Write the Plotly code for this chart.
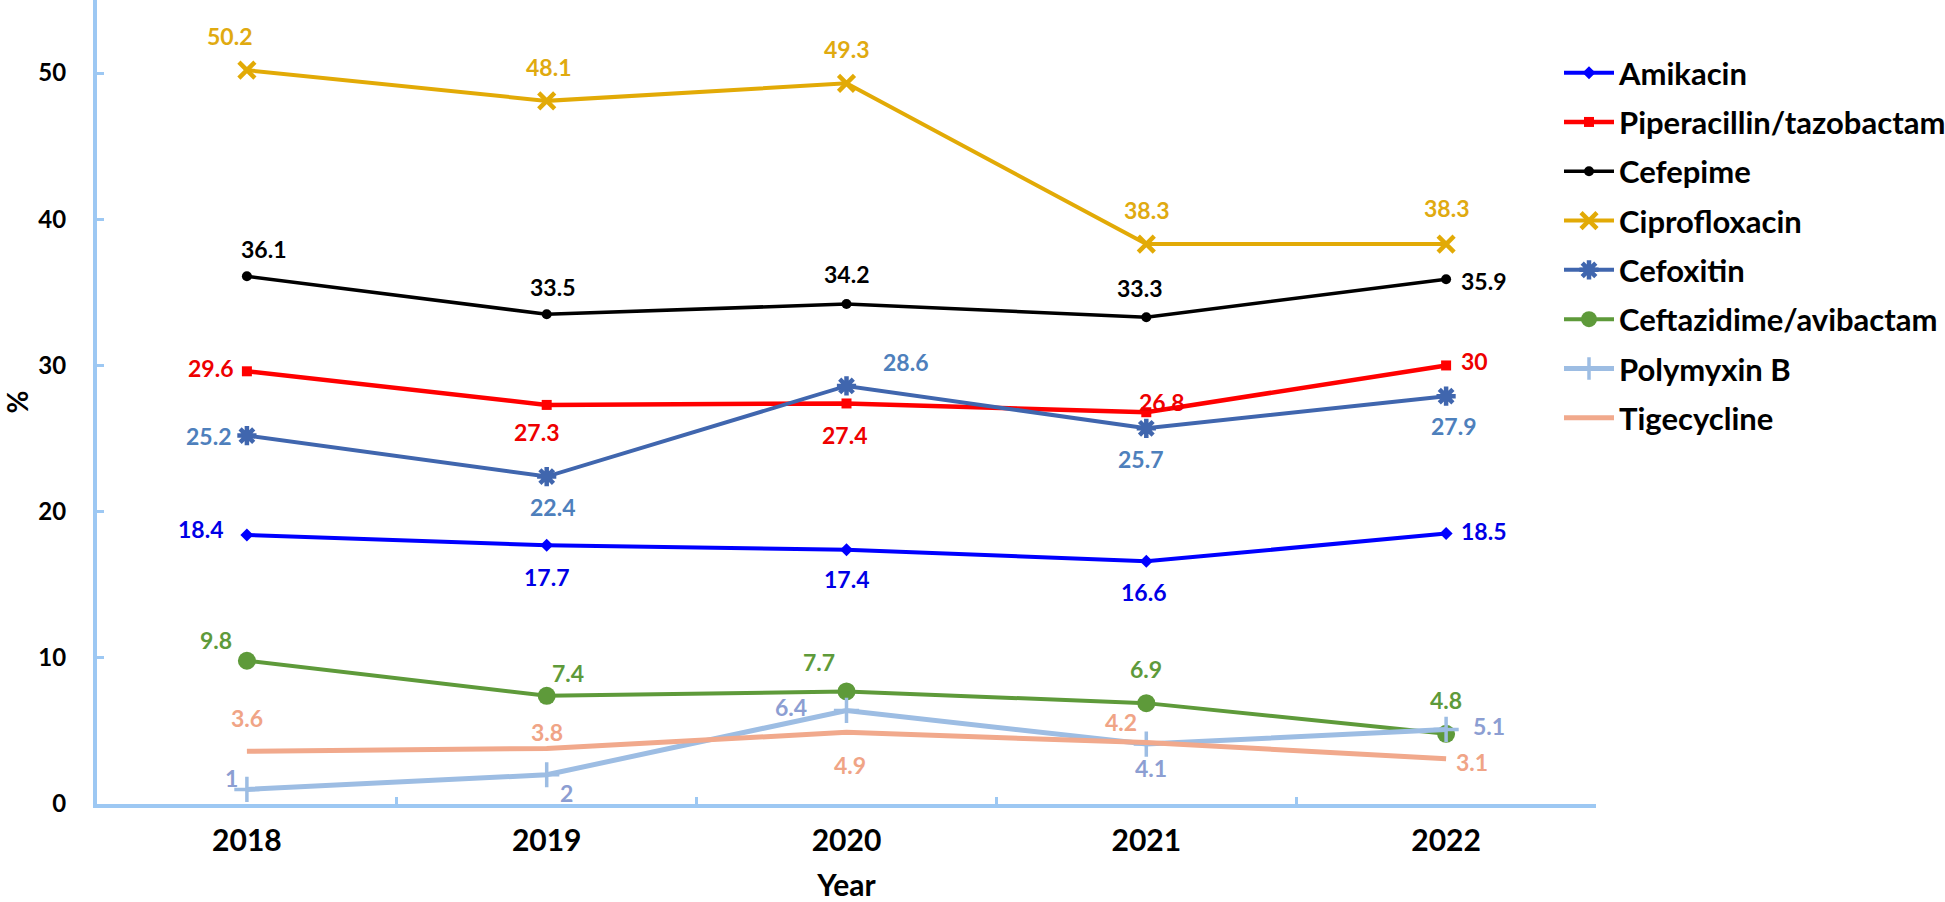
import plotly.graph_objects as go

years = ["2018", "2019", "2020", "2021", "2022"]
y_ticks = [0, 10, 20, 30, 40, 50]

amikacin = [18.4, 17.7, 17.4, 16.6, 18.5]
piperacillin = [29.6, 27.3, 27.4, 26.8, 30]
cefepime = [36.1, 33.5, 34.2, 33.3, 35.9]
ciprofloxacin = [50.2, 48.1, 49.3, 38.3, 38.3]
cefoxitin = [25.2, 22.4, 28.6, 25.7, 27.9]
ceftazidime = [9.8, 7.4, 7.7, 6.9, 4.8]
polymyxin = [1, 2, 6.4, 4.1, 5.1]
tigecycline = [3.6, 3.8, 4.9, 4.2, 3.1]

series_names = ["Amikacin", "Piperacillin/tazobactam", "Cefepime", "Ciprofloxacin",
                "Cefoxitin", "Ceftazidime/avibactam", "Polymyxin B", "Tigecycline"]
series_values = [amikacin, piperacillin, cefepime, ciprofloxacin,
                 cefoxitin, ceftazidime, polymyxin, tigecycline]

# styles
styles = [
    dict(line="#0000FF", label="#0000E6", symbol="diamond", size=10, lw=4, mlw=0),
    dict(line="#FF0000", label="#EE0000", symbol="square", size=10, lw=4.5, mlw=0),
    dict(line="#000000", label="#000000", symbol="circle", size=10, lw=3.5, mlw=0),
    dict(line="#E2AA06", label="#E0AA10", symbol="x-thin", size=16, lw=4, mlw=4.5),
    dict(line="#4066AE", label="#4E80BC", symbol="asterisk", size=16, lw=4, mlw=4.5),
    dict(line="#5E9A3A", label="#5E9A3A", symbol="circle", size=18, lw=4, mlw=0),
    dict(line="#9DBDE3", label="#8C9ED2", symbol="cross-thin", size=18, lw=5, mlw=3.5),
    dict(line="#F1A98C", label="#F0A486", symbol=None, size=0, lw=5, mlw=0),
]

# label offsets in pixels (dx right, dy down)
offsets = [
    [(-46, -6), (0, 32), (0, 29), (-3, 31), (37, -3)],
    [(-36, -3), (-10, 27), (-2, 32), (15, -10), (28, -4)],
    [(17, -27), (6, -27), (0, -30), (-7, -29), (37, 2)],
    [(-17, -34), (2, -34), (0, -34), (0, -34), (0, -36)],
    [(-38, 0), (6, 30), (59, -24), (-6, 31), (7, 30)],
    [(-31, -21), (21, -23), (-28, -29), (0, -34), (0, -34)],
    [(-15, -11), (20, 18), (-56, -3), (5, 24), (43, -3)],
    [(0, -33), (0, -16), (3, 33), (-25, -21), (26, 3)],
]

fig = go.Figure()
annotations = []
for i, (name, vals, st, offs) in enumerate(zip(series_names, series_values, styles, offsets)):
    if st["symbol"]:
        mode = "lines+markers"
        marker = dict(symbol=st["symbol"], size=st["size"], color=st["line"],
                      line=dict(color=st["line"], width=st["mlw"]))
    else:
        mode = "lines"
        marker = None
    fig.add_trace(go.Scatter(
        x=years, y=vals, name=name, mode=mode,
        line=dict(color=st["line"], width=st["lw"]),
        marker=marker, legendgroup=f"g{i}", cliponaxis=False,
    ))
    for xi, (v, (dx, dy)) in enumerate(zip(vals, offs)):
        annotations.append(dict(
            x=xi, y=v, xref="x", yref="y", text=f"{v:g}", showarrow=False,
            xshift=dx, yshift=-dy, xanchor="center", yanchor="middle",
            font=dict(family="Lato", size=23, color=st["label"], weight="bold"),
        ))

axis_color = "#9DC8F3"
fig.update_layout(
    width=1945, height=902,
    margin=dict(l=97, r=349, t=0, b=98, autoexpand=False),
    plot_bgcolor="white", paper_bgcolor="white",
    font=dict(family="Lato", color="black"),
    showlegend=True,
    legend=dict(
        xref="container", yref="container", x=1559 / 1945, y=1 - 46 / 902,
        xanchor="left", yanchor="top", itemwidth=50,
        font=dict(family="Lato", size=31, color="black", weight="bold"),
        tracegroupgap=6, bgcolor="rgba(0,0,0,0)",
    ),
    annotations=annotations,
    xaxis=dict(
        type="category", range=[-0.5, 4.5], tickson="boundaries",
        showline=True, linecolor=axis_color, linewidth=4,
        ticks="inside", ticklen=7, tickwidth=3, tickcolor=axis_color,
        showgrid=False, zeroline=False, automargin=False,
        tickfont=dict(family="Liberation Sans Narrow, Lato", size=30, color="black", weight="bold"),
        ticklabelstandoff=7,
        title=dict(text="Year", standoff=40,
                   font=dict(family="Liberation Sans Narrow, Lato", size=30, color="black", weight="bold")),
    ),
    yaxis=dict(
        range=[0, 55], tickvals=y_ticks,
        showline=True, linecolor=axis_color, linewidth=4,
        ticks="inside", ticklen=7, tickwidth=3, tickcolor=axis_color,
        showgrid=False, zeroline=False, automargin=False,
        tickfont=dict(family="Lato", size=24, color="black", weight="bold"),
        ticklabelstandoff=22,
        title=dict(text="%", standoff=17,
                   font=dict(family="Lato", size=28, color="black", weight="bold")),
    ),
)

fig.write_html("out.html", config={"displayModeBar": False},
               post_script="document.body.style.margin='0';")
